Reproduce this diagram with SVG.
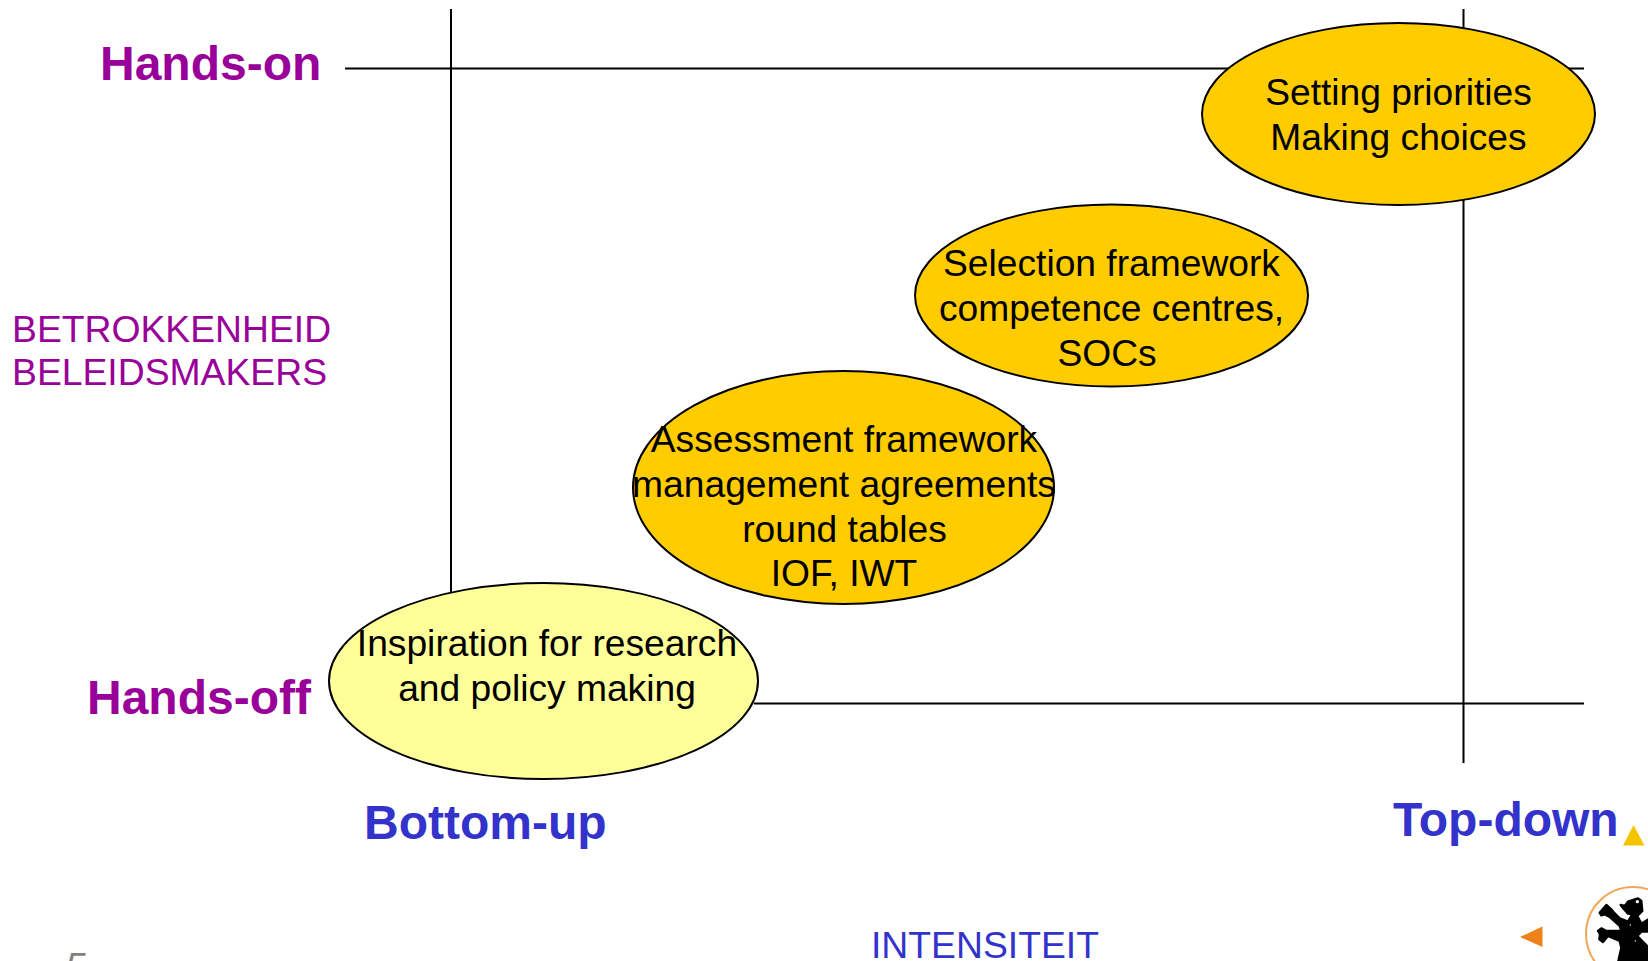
<svg xmlns="http://www.w3.org/2000/svg" width="1648" height="961" viewBox="0 0 1648 961">
<style>
text{font-family:"Liberation Sans",Arial,sans-serif}
.l{font-size:37.2px;fill:#000;text-anchor:middle}
.e{stroke:#000;stroke-width:2}
.g{fill:#FFCC00}
.ax{stroke:#000;stroke-width:2;fill:none}
.p{fill:#990099}
.b{fill:#3333CC}
.h{font-size:48px;font-weight:bold}
.s{font-size:37.3px}
</style>
<rect width="1648" height="961" fill="#fff"/>
<g id="connectors">
<path class="ax" d="M345 68.500H1584"/>
<path class="ax" d="M754 703.500H1584"/>
<path class="ax" d="M451 9V592"/>
<path class="ax" d="M1463.500 9V763"/>
</g>
<g id="node-setting"><ellipse class="e g" cx="1398.500" cy="114" rx="196.500" ry="91"/>
<text class="l" x="1398.500" y="105">Setting priorities</text><text class="l" x="1398.500" y="150">Making choices</text></g>
<g id="node-selection"><ellipse class="e g" cx="1111.500" cy="295.500" rx="196.500" ry="91"/>
<text class="l" x="1111.500" y="276">Selection framework</text><text class="l" x="1111.500" y="321">competence centres,</text><text class="l" x="1107" y="366">SOCs</text></g>
<g id="node-assessment"><ellipse class="e g" cx="843.500" cy="487.500" rx="210.500" ry="116.500"/>
<text class="l" x="844" y="452">Assessment framework</text><text class="l" x="844" y="496.500">management agreements</text><text class="l" x="844.500" y="541.500">round tables</text><text class="l" x="844" y="586">IOF, IWT</text></g>
<g id="node-inspiration"><ellipse class="e" fill="#FFFF99" cx="543.500" cy="681" rx="214.500" ry="98"/>
<text class="l" x="547" y="656">Inspiration for research</text><text class="l" x="547" y="701">and policy making</text></g>
<g id="label-hands-on"><text class="h p" x="100" y="80">Hands-on</text></g>
<g id="label-hands-off"><text class="h p" x="87" y="714">Hands-off</text></g>
<g id="label-betrokkenheid"><text class="s p" x="12" y="342">BETROKKENHEID</text><text class="s p" x="12" y="385">BELEIDSMAKERS</text></g>
<g id="label-bottom-up"><text class="h b" x="364" y="839">Bottom-up</text></g>
<g id="label-top-down"><text class="h b" x="1393" y="836">Top-down</text></g>
<g id="label-intensiteit"><text class="s b" x="871" y="958">INTENSITEIT</text></g>
<text x="65" y="979" font-size="37" font-style="italic" fill="#808080">5</text>
<path fill="#F5C400" d="M1633.500 825L1644.500 845.500H1623Z"/>
<path fill="#EE8118" d="M1520 937L1542.500 926.500V947Z"/>
<g id="logo">
<circle cx="1633" cy="934" r="47" fill="#fff" stroke="#F2A65A" stroke-width="2"/>
<g transform="translate(1578 881) scale(.3333)">
<path fill="#000" stroke="#000" stroke-width="7" stroke-linejoin="round" d="M65 95L85 72L100 85L108 95L125 112L150 122L163 100L150 98L138 85L128 72L140 75L150 62L180 52L190 60L193 90L178 105L190 128L212 115V152H190L178 165L212 200V245H120L130 200L125 180L90 165L75 183L64 175L66 160L60 150L70 142L85 150H130L125 135L95 108L80 100L70 103Z"/>
<circle cx="178" cy="62" r="5" fill="#fff"/>
<circle cx="157" cy="132" r="2" fill="#fff"/>
<circle cx="172" cy="180" r="2" fill="#fff"/>
</g>
</g>
</svg>
